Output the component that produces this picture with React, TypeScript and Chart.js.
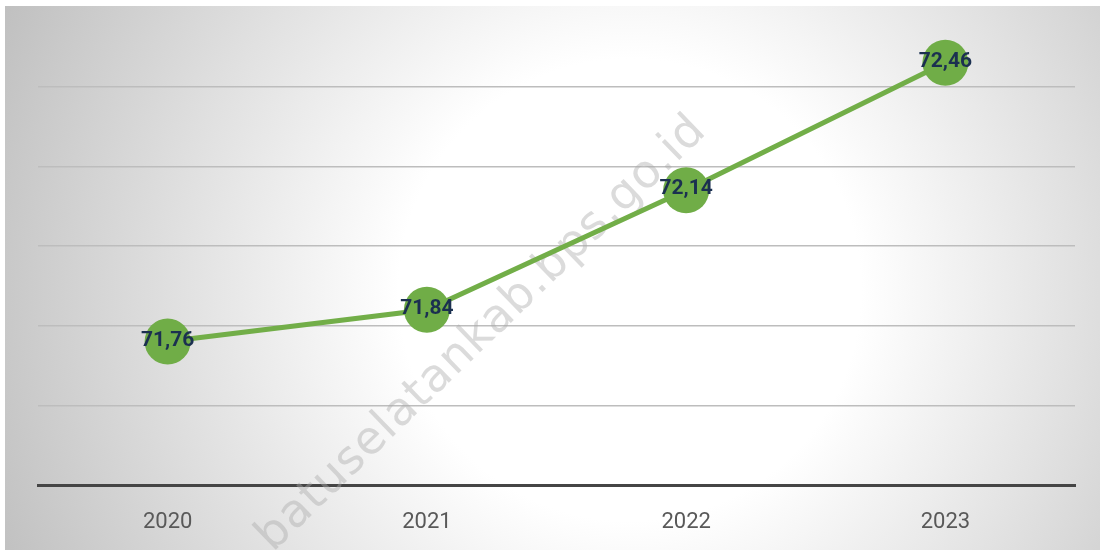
import React, { useEffect, useRef } from "react";
import { Chart, registerables } from "chart.js";

Chart.register(...registerables);

const categories: string[] = ["2020", "2021", "2022", "2023"];
const values: number[] = [71.76, 71.84, 72.14, 72.46];
const valueLabels: string[] = ["71,76", "71,84", "72,14", "72,46"];
const yMin = 71.4;
const yMax = 72.6;
const yStep = 0.2;
const watermark = "batuselatankab.bps.go.id";

const bgPlugin = {
  id: "bgPlugin",
  beforeDraw(chart: any) {
    const { ctx, width, height } = chart;
    ctx.save();
    ctx.fillStyle = "#ffffff";
    ctx.fillRect(0, 0, width, height);
    const g = ctx.createRadialGradient(630, 290, 0, 630, 290, 700);
    g.addColorStop(0, "#ffffff");
    g.addColorStop(0.33, "#ffffff");
    g.addColorStop(1, "#bebebe");
    ctx.fillStyle = g;
    ctx.fillRect(5, 6, width - 5, height - 6);
    ctx.restore();
  },
  beforeDatasetsDraw(chart: any) {
    const { ctx } = chart;
    ctx.save();
    ctx.translate(482, 334);
    ctx.rotate(-Math.atan2(425, 440));
    ctx.font = "46px 'DejaVu Sans'";
    (ctx as any).letterSpacing = "1px";
    ctx.fillStyle = "rgba(170,170,170,0.42)";
    ctx.textAlign = "center";
    ctx.textBaseline = "middle";
    ctx.fillText(watermark, 0, 0);
    ctx.restore();
  },
  afterDatasetsDraw(chart: any) {
    const { ctx } = chart;
    const meta = chart.getDatasetMeta(0);
    ctx.save();
    ctx.font = "bold 21px Roboto";
    ctx.fillStyle = "#1b3050";
    ctx.textAlign = "center";
    ctx.textBaseline = "middle";
    meta.data.forEach((pt: any, i: number) => {
      ctx.fillText(valueLabels[i], pt.x, pt.y - 1);
    });
    ctx.restore();
  },
};

export default function App() {
  const ref = useRef<HTMLCanvasElement | null>(null);
  useEffect(() => {
    if (!ref.current) return;
    const chart = new Chart(ref.current, {
      type: "line",
      data: {
        labels: categories,
        datasets: [
          {
            data: values,
            borderColor: "#72ae48",
            borderWidth: 5,
            backgroundColor: "#70ad47",
            pointBackgroundColor: "#70ad47",
            pointBorderWidth: 0,
            pointRadius: 23,
            pointHoverRadius: 23,
            tension: 0,
            clip: false as any,
          },
        ],
      },
      options: {
        responsive: false,
        animation: false,
        layout: { autoPadding: false, padding: { left: 38, right: 25, top: 7, bottom: 0 } },
        plugins: {
          legend: { display: false },
          tooltip: { enabled: false },
        },
        scales: {
          x: {
            offset: true,
            grid: { display: false },
            border: { display: true, color: "#454545", width: 3 },
            ticks: {
              color: "#595959",
              font: { family: "Roboto", size: 22 },
              padding: 16,
            },
            afterFit(scale: any) {
              scale.height = 65;
            },
          },
          y: {
            min: yMin,
            max: yMax,
            ticks: { display: false, stepSize: yStep },
            border: { display: false },
            grid: {
              drawTicks: false,
              lineWidth: 1.5,
              color: (c: any) => {
                const v = c.tick ? c.tick.value : 0;
                if (Math.abs(v - yMax) < 1e-6 || Math.abs(v - yMin) < 1e-6) return "rgba(0,0,0,0)";
                return "#bdbdbd";
              },
            },
            afterFit(scale: any) {
              scale.width = 0;
            },
          },
        },
      },
      plugins: [bgPlugin],
    });
    return () => chart.destroy();
  }, []);
  return (
    <div style={{ position: "absolute", left: 0, top: 0, width: 1100, height: 550 }}>
      <canvas ref={ref} width={1100} height={550} style={{ display: "block" }} />
    </div>
  );
}
